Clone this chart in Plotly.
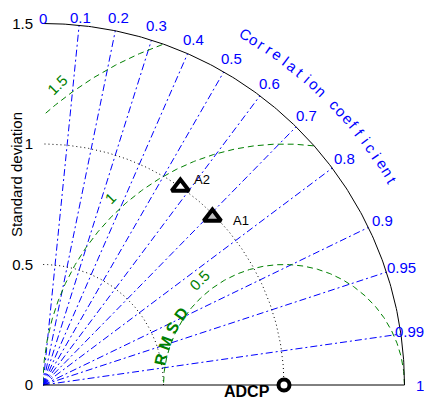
import numpy as np
import plotly.graph_objects as go

# ---- data ----
models = ["ADCP", "A1", "A2"]
std_dev = [1.0, 0.99, 1.0]
corr_coef = [1.0, 0.71, 0.57]

corr_lines = [0.1, 0.2, 0.3, 0.4, 0.5, 0.6, 0.7, 0.8, 0.9, 0.95, 0.99]
corr_tick_vals = [0, 0.1, 0.2, 0.3, 0.4, 0.5, 0.6, 0.7, 0.8, 0.9, 0.95, 0.99, 1]
corr_tick_text = ["0", "0.1", "0.2", "0.3", "0.4", "0.5", "0.6", "0.7", "0.8", "0.9", "0.95", "0.99", "1"]
std_ticks = [0, 0.5, 1, 1.5]
std_tick_text = ["0", "0.5", "1", "1.5"]
std_arcs = [0.5, 1.0]
rmsd_levels = [0.5, 1.0, 1.5]
rmsd_text = ["0.5", "1", "1.5"]
std_max = 1.5
ref_std = 1.0

# ---- styles / layout helpers ----
FONT = "Liberation Sans, Arial, sans-serif"
BLUE = "#0000ff"
GREEN = "#008000"
PX = 241.0                 # pixels per unit
ORIGIN_X, ORIGIN_Y = 35, 377   # origin inside the figure (page has an 8px body margin)
FIG_W, FIG_H = 424, 392
rmsd_label_angles = [129, 133, 127]
CORR_LABEL_GAP = 15.5      # px beyond the outer arc
LABEL_FS = 15
TOP_MIN, RIGHT_MAX = 10, 416   # keep corr labels inside the visible area


def text_width(s, fs):
    return sum((0.278 if ch == "." else 0.556) * fs for ch in s)


fig = go.Figure()

# correlation rays
xs, ys = [], []
for c in corr_lines:
    t = np.arccos(c)
    xs += [0, std_max * np.cos(t), None]
    ys += [0, std_max * np.sin(t), None]
fig.add_trace(go.Scatter(x=xs, y=ys, mode="lines", hoverinfo="skip",
                         line=dict(color=BLUE, width=1, dash="7px,3px,2px,3px")))

# std arcs (dotted)
th = np.linspace(0, np.pi / 2, 200)
xs, ys = [], []
for s in std_arcs:
    xs += list(s * np.cos(th)) + [None]
    ys += list(s * np.sin(th)) + [None]
fig.add_trace(go.Scatter(x=xs, y=ys, mode="lines", hoverinfo="skip",
                         line=dict(color="black", width=1, dash="1px,3px")))

# RMSD arcs (green dashed)
thr = np.linspace(0, np.pi, 600)
xs, ys = [], []
for r in rmsd_levels:
    px = ref_std + r * np.cos(thr)
    py = r * np.sin(thr)
    keep = (px ** 2 + py ** 2 <= std_max ** 2 + 1e-9) & (px >= 0)
    xs += list(px[keep]) + [None]
    ys += list(py[keep]) + [None]
fig.add_trace(go.Scatter(x=xs, y=ys, mode="lines", hoverinfo="skip",
                         line=dict(color=GREEN, width=1, dash="6px,4px")))

# outer frame
xs = list(std_max * np.cos(th)) + [None, 0, std_max]
ys = list(std_max * np.sin(th)) + [None, 0, 0]
fig.add_trace(go.Scatter(x=xs, y=ys, mode="lines", hoverinfo="skip",
                         line=dict(color="black", width=1)))

# points
mx = [s * c for s, c in zip(std_dev, corr_coef)]
my = [s * np.sin(np.arccos(c)) for s, c in zip(std_dev, corr_coef)]
fig.add_trace(go.Scatter(x=mx[:1], y=my[:1], mode="markers", cliponaxis=False,
                         marker=dict(symbol="circle", size=11, color="white",
                                     line=dict(color="black", width=4))))
fig.add_trace(go.Scatter(x=mx[1:2], y=my[1:2], mode="markers", cliponaxis=False,
                         marker=dict(symbol="triangle-up", size=15, color="#c0c0c0",
                                     line=dict(color="black", width=4))))
fig.add_trace(go.Scatter(x=mx[2:3], y=my[2:3], mode="markers", cliponaxis=False,
                         marker=dict(symbol="triangle-up", size=15, color="white",
                                     line=dict(color="black", width=4))))

ann = []
# point labels
ann.append(dict(x=mx[0], y=my[0], text="<b>ADCP</b>", xanchor="right", yanchor="middle",
                xshift=-12, yshift=-6, font=dict(size=16, color="black", family=FONT)))
ann.append(dict(x=mx[1], y=my[1], text="A1", xanchor="left", yanchor="middle",
                xshift=19, yshift=-4, font=dict(size=13, color="black", family=FONT)))
ann.append(dict(x=mx[2], y=my[2], text="A2", xanchor="left", yanchor="middle",
                xshift=12, yshift=7, font=dict(size=13, color="black", family=FONT)))

# correlation tick labels (anchored on the outer arc, pushed outward in pixels)
for v, tx in zip(corr_tick_vals, corr_tick_text):
    t = np.arccos(v)
    xsh = CORR_LABEL_GAP * np.cos(t)
    ysh = CORR_LABEL_GAP * np.sin(t)
    fy = ORIGIN_Y - std_max * PX * np.sin(t) - ysh
    if fy < TOP_MIN:
        ysh -= (TOP_MIN - fy)
    fx = ORIGIN_X + std_max * PX * np.cos(t) + xsh
    hw = text_width(tx, LABEL_FS) / 2
    if fx + hw > RIGHT_MAX:
        xsh -= (fx + hw - RIGHT_MAX)
    ann.append(dict(x=std_max * np.cos(t), y=std_max * np.sin(t), text=tx,
                    xshift=xsh, yshift=ysh, xanchor="center", yanchor="middle",
                    font=dict(size=LABEL_FS, color=BLUE, family=FONT)))

# curved "Correlation coefficient"
label = "Correlation coefficient"
angs = np.linspace(60.0, 30.4, len(label))
for ch, a in zip(label, angs):
    if ch == " ":
        continue
    ar = np.radians(a)
    ann.append(dict(x=1.68 * np.cos(ar), y=1.68 * np.sin(ar), text=ch,
                    textangle=90 - a, xanchor="center", yanchor="middle",
                    font=dict(size=15, color=BLUE, family=FONT)))

# RMSD value labels
for r, tx, ang in zip(rmsd_levels, rmsd_text, rmsd_label_angles):
    a = np.radians(ang)
    ann.append(dict(x=ref_std + (r + 0.06) * np.cos(a), y=(r + 0.06) * np.sin(a), text=tx,
                    textangle=-45, xanchor="center", yanchor="middle",
                    font=dict(size=15, color=GREEN, family=FONT)))

# curved "RMSD"
for ch, a in zip("RMSD", np.linspace(168, 145, 4)):
    ar = np.radians(a)
    ann.append(dict(x=ref_std + 0.52 * np.cos(ar), y=0.52 * np.sin(ar), text="<b>" + ch + "</b>",
                    textangle=-(a - 90), xanchor="center", yanchor="middle",
                    font=dict(size=16, color=GREEN, family=FONT)))

for a in ann:
    a["showarrow"] = False
    a["xref"] = "x"
    a["yref"] = "y"

# y title (placed in paper space at the left edge)
ann.append(dict(xref="paper", x=0, xshift=-27, yref="y", y=0.871, showarrow=False,
                text="Standard deviation", textangle=-90,
                xanchor="center", yanchor="middle",
                font=dict(size=15, color="black", family=FONT)))

fig.update_layout(
    width=FIG_W, height=FIG_H,
    margin=dict(l=ORIGIN_X, r=0, t=0, b=0, autoexpand=False),
    paper_bgcolor="white", plot_bgcolor="white",
    showlegend=False,
    annotations=ann,
    font=dict(family=FONT),
    xaxis=dict(range=[0, (FIG_W - ORIGIN_X) / PX], visible=False, fixedrange=True,
               automargin=False),
    yaxis=dict(range=[-(FIG_H - ORIGIN_Y) / PX, ORIGIN_Y / PX], tickvals=std_ticks,
               ticktext=std_tick_text, automargin=False,
               showgrid=False, zeroline=False, showline=False, ticks="",
               ticklabelstandoff=9, tickfont=dict(size=15, color="black", family=FONT),
               fixedrange=True),
)

fig.write_html("out.html")
